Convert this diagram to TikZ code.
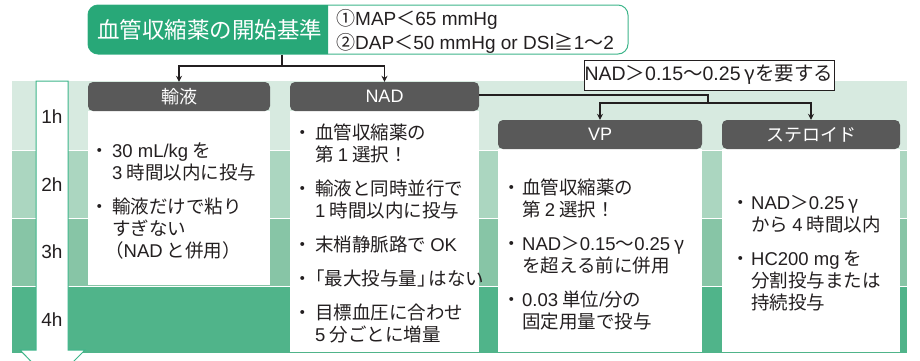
\documentclass[tikz,border=0pt]{standalone}
\usepackage{fontspec}
\setmainfont{Noto Sans CJK JP}
\newfontfamily\lat{Liberation Sans}
\usetikzlibrary{arrows.meta}
\definecolor{rowA}{HTML}{D7EAE0}
\definecolor{rowB}{HTML}{ABD6C0}
\definecolor{rowC}{HTML}{87C5A6}
\definecolor{rowD}{HTML}{50B48A}
\definecolor{titlegreen}{HTML}{28A878}
\definecolor{edgegreen}{HTML}{3DB58A}
\definecolor{hgray}{HTML}{595959}
\definecolor{ink}{HTML}{231F20}
\newcommand\lt[1]{{\lat #1}}
\newcommand\bline[4]{\node[bt] (#1) at (#2,#3) {#4};}
\newcommand\bdot[3]{\node[bdotst] (#1) at (#2,#3) {・};}
\begin{document}
\begin{tikzpicture}[x=1pt,y=-1pt,
  bt/.style={anchor=base west, inner sep=0pt, text=ink, font=\fontsize{18.5}{22}\selectfont},
  bdotst/.style={anchor=base, inner sep=0pt, text=ink, font=\fontsize{18.5}{22}\selectfont},
  hdr/.style={fill=hgray, rounded corners=5pt, minimum height=29pt, inner sep=0pt, text=white, font=\fontsize{18}{20}\selectfont},
  bodybox/.style={fill=white, inner sep=0pt},
  tlab/.style={inner sep=0pt, text=ink, font=\fontsize{19}{20}\selectfont\lat},
  crit/.style={anchor=base west, inner sep=0pt, text=ink, font=\fontsize{19}{20}\selectfont},
  conn/.style={line width=1.2pt, draw=ink},
  arr/.style={conn, -{Stealth[length=6pt,width=6pt]}}]
\useasboundingbox (0,0) rectangle (920,360);
\clip (0,0) rectangle (920,360);
% bands
\fill[rowA] (12,81) rectangle (907,150);
\fill[rowB] (12,151) rectangle (907,218);
\fill[rowC] (12,219) rectangle (907,286);
\fill[rowD] (12,287) rectangle (907,353);
% time arrow
\draw[edgegreen, fill=white, line width=1pt] (36,81) -- (68,81) -- (68,350) -- (85,350) -- (52,383) -- (20,350) -- (36,350) -- cycle;
\node[tlab] (t1) at (52,117) {1h};
\node[tlab] (t2) at (52,185) {2h};
\node[tlab] (t3) at (52,252) {3h};
\node[tlab] (t4) at (52,320) {4h};
% title box
\node[draw=edgegreen, fill=white, rounded corners=10pt, minimum width=540pt, minimum height=49pt, inner sep=0pt, line width=1pt] (critbox) at (358,29.5) {};
\begin{scope}
\clip (87,4) rectangle (328,55);
\fill[titlegreen, rounded corners=10pt] (88,5) rectangle (628,54);
\end{scope}
\node[inner sep=0pt, text=white, font=\fontsize{22.5}{24}\selectfont] (title) at (209.5,30) {血管収縮薬の開始基準};
\node[crit] (c1) at (336,25.5) {①\lt{MAP}＜\lt{65 mmHg}};
\node[crit] (c2) at (336,49) {②\lt{DAP}＜\lt{50 mmHg or DSI}≧\lt{1}～\lt{2}};
% bodies
\node[bodybox, minimum width=182pt, minimum height=174pt] (b1) at (179,198) {};
\node[bodybox, minimum width=189pt, minimum height=241pt] (b2) at (384.5,231.5) {};
\node[bodybox, minimum width=204pt, minimum height=203pt] (b3) at (600,250.5) {};
\node[bodybox, minimum width=178pt, minimum height=203pt] (b4) at (811,250.5) {};
% headers
\node[hdr, minimum width=182pt] (h1) at (179,96.5) {輸液};
\node[hdr, minimum width=189pt] (h2) at (384.5,96.5) {\lt{NAD}};
\node[hdr, minimum width=204pt] (h3) at (600,134.5) {\lt{VP}};
\node[hdr, minimum width=178pt] (h4) at (811,134.5) {ステロイド};
% requirement box
\node[draw=ink, fill=white, line width=0.8pt, minimum width=250pt, minimum height=30pt, inner sep=0pt, text=ink, font=\fontsize{19.5}{20}\selectfont] (req) at (709,75) {\lt{NAD}＞\lt{0.15}～\lt{0.25} γを要する};
% connectors
\coordinate (j1) at (282,66);
\draw[conn] (critbox.south -| j1) -- (j1);
\draw[arr] (j1) -| (h1.north);
\draw[arr] (j1) -| (h2.north);
\coordinate (n1) at (708,95);
\coordinate (n2) at (708,103);
\draw[conn] (h2.east |- n1) -- (n1) -- (n2);
\draw[arr] (n2) -| (h3.north);
\draw[arr] (n2) -| (h4.north);
% fluid texts
\bdot{d11}{100}{157}\bline{l11}{112}{157}{\lt{30 mL/kg} を}
\bline{l12}{112}{179}{\lt{3} 時間以内に投与}
\bdot{d12}{100}{213}\bline{l13}{112}{213}{輸液だけで粘り}
\bline{l14}{112}{235}{すぎない}
\bline{l15}{105}{257}{（\lt{NAD} と併用）}
% NAD texts
\bdot{d21}{303}{139}\bline{l21}{315}{139}{血管収縮薬の}
\bline{l22}{315}{161}{第 \lt{1} 選択！}
\bdot{d22}{303}{195}\bline{l23}{315}{195}{輸液と同時並行で}
\bline{l24}{315}{217}{\lt{1} 時間以内に投与}
\bdot{d23}{303}{251}\bline{l25}{315}{251}{末梢静脈路で \lt{OK}}
\bdot{d24}{303}{285}\bline{l26}{306}{285}{「最大投与量」\kern-7pt はない}
\bdot{d25}{303}{319}\bline{l27}{315}{319}{目標血圧に合わせ}
\bline{l28}{315}{341}{\lt{5} 分ごとに増量}
% VP texts
\bdot{d31}{512}{194}\bline{l31}{522}{194}{血管収縮薬の}
\bline{l32}{522}{216}{第 \lt{2} 選択！}
\bdot{d32}{512}{250}\bline{l33}{522}{250}{\lt{NAD}＞\lt{0.15}～\lt{0.25} γ}
\bline{l34}{522}{272}{を超える前に併用}
\bdot{d33}{512}{306}\bline{l35}{522}{306}{\lt{0.03} 単位\lt{/}分の}
\bline{l36}{522}{328}{固定用量で投与}
% steroid texts
\bdot{d41}{741}{209}\bline{l41}{751}{209}{\lt{NAD}＞\lt{0.25} γ}
\bline{l42}{751}{231}{から \lt{4} 時間以内}
\bdot{d42}{741}{265}\bline{l43}{751}{265}{\lt{HC200 mg} を}
\bline{l44}{751}{287}{分割投与または}
\bline{l45}{751}{309}{持続投与}
\end{tikzpicture}
\end{document}
